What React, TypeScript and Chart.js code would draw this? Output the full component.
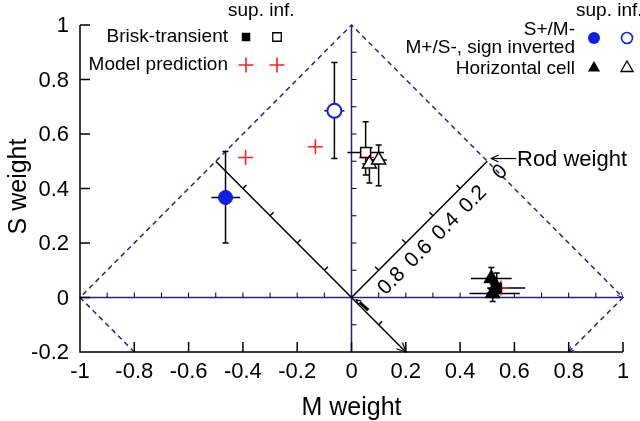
import { useEffect, useRef } from 'react'
import { Chart, registerables } from 'chart.js'
import { drawPoint } from 'chart.js/helpers'

Chart.register(...registerables)

const xTicks = [-1, -0.8, -0.6, -0.4, -0.2, 0, 0.2, 0.4, 0.6, 0.8, 1]
const yTicks = [-0.2, 0, 0.2, 0.4, 0.6, 0.8, 1]
const xMinor = [-0.9, -0.8, -0.7, -0.6, -0.5, -0.4, -0.3, -0.2, -0.1, 0.1, 0.2, 0.3, 0.4, 0.5, 0.6, 0.7, 0.8, 0.9]
const yMinor = [-0.1, 0.1, 0.2, 0.3, 0.4, 0.5, 0.6, 0.7, 0.8, 0.9]
const rodTicks = [0.8, 0.6, 0.4, 0.2, 0]
const diagTicks = [-0.4, -0.3, -0.2, -0.1, 0.1]

// [x, y, xLow, xHigh, yLow, yHigh]
const briskSup = [[0.535, 0.035, 0.5, 0.64, 0.0, 0.09]]
const briskInf = [[0.052, 0.532, -0.015, 0.12, 0.45, 0.645]]
const sPlusSup = [[-0.464, 0.367, -0.516, -0.41, 0.2, 0.536]]
const mPlusInf = [[-0.063, 0.685, -0.1, -0.026, 0.51, 0.862]]
const horizSup = [
  [0.515, 0.07, 0.44, 0.59, 0.03, 0.11],
  [0.52, 0.015, 0.435, 0.62, -0.015, 0.05],
]
const horizInf = [
  [0.066, 0.49, 0.04, 0.1, 0.42, 0.55],
  [0.1, 0.505, 0.07, 0.13, 0.41, 0.56],
]
const modelPred = [
  [-0.39, 0.514],
  [-0.133, 0.553],
  [0.055, 0.514],
  [0.55, 0.035],
]

const diamond = [[-0.8, -0.2], [-1, 0], [0, 1], [1, 0], [0.8, -0.2]]

const NAVY = '#23237d'
const BLUE = '#1020e0'
const RED = '#ff2020'
const FONT = "'Liberation Sans', Arial, sans-serif"

const toPts = (rows: number[][]) => rows.map((r) => ({ x: r[0], y: r[1] }))

const withErr = [briskSup, briskInf, sPlusSup, mPlusInf, horizSup, horizInf]

function arrowHead(ctx: CanvasRenderingContext2D, tx: number, ty: number, fx: number, fy: number, len: number) {
  const a = Math.atan2(ty - fy, tx - fx)
  ctx.beginPath()
  ctx.moveTo(tx - len * Math.cos(a - 0.45), ty - len * Math.sin(a - 0.45))
  ctx.lineTo(tx, ty)
  ctx.lineTo(tx - len * Math.cos(a + 0.45), ty - len * Math.sin(a + 0.45))
  ctx.stroke()
}

const overlay = {
  id: 'overlay',
  beforeDatasetsDraw(chart: any) {
    const ctx: CanvasRenderingContext2D = chart.ctx
    const xs = chart.scales.x
    const ys = chart.scales.y
    const px = (v: number) => xs.getPixelForValue(v)
    const py = (v: number) => ys.getPixelForValue(v)
    ctx.save()
    ctx.lineCap = 'butt'

    // dashed diamond
    ctx.strokeStyle = NAVY
    ctx.lineWidth = 1.5
    ctx.setLineDash([5, 4])
    ctx.beginPath()
    diamond.forEach((p, i) => (i === 0 ? ctx.moveTo(px(p[0]), py(p[1])) : ctx.lineTo(px(p[0]), py(p[1]))))
    ctx.stroke()
    ctx.setLineDash([])
    ctx.lineWidth = 1
    arrowHead(ctx, px(1), py(0), px(0), py(1), 6)
    arrowHead(ctx, px(0.8), py(-0.2), px(1), py(0), 6)

    // centre axes
    ctx.lineWidth = 1.5
    ctx.beginPath()
    ctx.moveTo(px(-1), py(0))
    ctx.lineTo(px(1), py(0))
    ctx.moveTo(px(0), py(-0.2))
    ctx.lineTo(px(0), py(1))
    ctx.stroke()

    ctx.strokeStyle = '#000'
    ctx.lineWidth = 1
    ctx.beginPath()
    xMinor.forEach((v) => {
      ctx.moveTo(px(v), py(0))
      ctx.lineTo(px(v), py(0) - 5)
    })
    yMinor.forEach((v) => {
      ctx.moveTo(px(0), py(v))
      ctx.lineTo(px(0) + 5, py(v))
    })
    ctx.stroke()

    // main axes
    ctx.lineWidth = 1.5
    ctx.beginPath()
    ctx.moveTo(px(-1), py(1))
    ctx.lineTo(px(-1), py(-0.2))
    ctx.lineTo(px(1), py(-0.2))
    xTicks.forEach((v) => {
      ctx.moveTo(px(v), py(-0.2))
      ctx.lineTo(px(v), py(-0.2) - 10)
    })
    yTicks.forEach((v) => {
      ctx.moveTo(px(-1), py(v))
      ctx.lineTo(px(-1) + 10, py(v))
    })
    ctx.stroke()

    ctx.fillStyle = '#000'
    ctx.font = `22px ${FONT}`
    ctx.textAlign = 'center'
    ctx.textBaseline = 'middle'
    xTicks.forEach((v) => ctx.fillText(String(v), px(v), py(-0.2) + 20))
    ctx.textAlign = 'right'
    yTicks.forEach((v) => ctx.fillText(String(v), px(-1) - 11, py(v) + 1))

    ctx.font = `25px ${FONT}`
    ctx.textAlign = 'center'
    ctx.fillText('M weight', px(0), py(-0.2) + 56)
    ctx.save()
    ctx.translate(19, py(0.4) - 2)
    ctx.rotate(-Math.PI / 2)
    ctx.fillText('S weight', 0, 0)
    ctx.restore()

    // diagonal (M-S) line
    ctx.lineWidth = 1.5
    ctx.beginPath()
    ctx.moveTo(px(-0.5), py(0.5))
    ctx.lineTo(px(0.2), py(-0.2))
    const d = 5 / Math.SQRT2
    diagTicks.forEach((v) => {
      ctx.moveTo(px(v), py(-v))
      ctx.lineTo(px(v) + d, py(-v) - d)
    })
    ctx.stroke()
    ctx.lineWidth = 1.2
    arrowHead(ctx, px(0.2), py(-0.2), px(-0.5), py(0.5), 10)
    ctx.lineWidth = 3
    ctx.beginPath()
    ctx.moveTo(px(0.03), py(-0.018))
    ctx.lineTo(px(0.062), py(-0.046))
    ctx.stroke()
    ctx.lineWidth = 1.2
    arrowHead(ctx, px(0.018), py(-0.008), px(0.06), py(-0.046), 5)

    // rod weight axis
    ctx.lineWidth = 1.5
    ctx.beginPath()
    ctx.moveTo(px(0), py(0))
    ctx.lineTo(px(0.5), py(0.5))
    rodTicks.forEach((r) => {
      const v = (1 - r) / 2
      if (r > 0) {
        ctx.moveTo(px(v), py(v))
        ctx.lineTo(px(v) - d, py(v) - d)
      }
    })
    ctx.stroke()
    ctx.font = `21px ${FONT}`
    rodTicks.forEach((r) => {
      const v = (1 - r) / 2
      ctx.save()
      ctx.translate(px(v) + 13, py(v) + 11)
      ctx.rotate(-Math.PI / 4)
      ctx.textAlign = 'center'
      ctx.textBaseline = 'middle'
      ctx.fillText(String(r), 0, 0)
      ctx.restore()
    })

    // rod weight label
    ctx.lineWidth = 1.2
    ctx.beginPath()
    ctx.moveTo(px(0.515) + 25, py(0.51))
    ctx.lineTo(px(0.515), py(0.51))
    ctx.stroke()
    arrowHead(ctx, px(0.515), py(0.51), px(0.515) + 25, py(0.51), 8)
    ctx.font = `22px ${FONT}`
    ctx.textAlign = 'left'
    ctx.textBaseline = 'middle'
    ctx.fillText('Rod weight', 517, py(0.51) + 1)

    // error bars
    ctx.strokeStyle = '#000'
    ctx.lineWidth = 1.5
    ctx.beginPath()
    withErr.forEach((rows) =>
      rows.forEach((r) => {
        ctx.moveTo(px(r[2]), py(r[1]))
        ctx.lineTo(px(r[3]), py(r[1]))
        ctx.moveTo(px(r[0]), py(r[4]))
        ctx.lineTo(px(r[0]), py(r[5]))
        ctx.moveTo(px(r[0]) - 3, py(r[4]))
        ctx.lineTo(px(r[0]) + 3, py(r[4]))
        ctx.moveTo(px(r[0]) - 3, py(r[5]))
        ctx.lineTo(px(r[0]) + 3, py(r[5]))
      })
    )
    ctx.stroke()

    // legends
    ctx.fillStyle = '#000'
    ctx.font = `19px ${FONT}`
    ctx.textAlign = 'left'
    ctx.fillText('sup. inf.', 228, 11)
    ctx.fillText('sup. inf.', 576, 11)
    ctx.textAlign = 'right'
    ctx.fillText('Brisk-transient', 228, 37)
    ctx.fillText('Model prediction', 228, 65)
    ctx.fillText('S+/M-', 575, 30)
    ctx.fillText('M+/S-, sign inverted', 575, 48)
    ctx.fillText('Horizontal cell', 575, 69)

    const mark = (style: string, r: number, fill: string, stroke: string, bw: number, x: number, y: number) => {
      ctx.fillStyle = fill
      ctx.strokeStyle = stroke
      ctx.lineWidth = bw
      drawPoint(ctx, { pointStyle: style as any, radius: r, rotation: 0, borderWidth: bw }, x, y)
    }
    mark('rect', 6, '#000', '#000', 0, 246, 37)
    mark('rect', 6, '#fff', '#000', 1.3, 277, 37)
    mark('cross', 7.5, RED, RED, 1.6, 246, 65)
    mark('cross', 7.5, RED, RED, 1.6, 277, 65)
    mark('circle', 6, BLUE, BLUE, 0, 594, 38)
    mark('circle', 5.5, '#fff', BLUE, 1.6, 627, 38)
    mark('triangle', 7, '#000', '#000', 0, 594, 68)
    mark('triangle', 7, '#fff', '#000', 1.3, 627, 68)
    ctx.restore()
  },
}

export default function App() {
  const chartRef = useRef<HTMLCanvasElement>(null)
  const chartInstance = useRef<Chart | null>(null)

  useEffect(() => {
    document.body.style.margin = '0'
    if (!chartRef.current) return
    const ctx = chartRef.current.getContext('2d')
    if (!ctx) return
    if (chartInstance.current) chartInstance.current.destroy()

    chartInstance.current = new Chart(ctx, {
      type: 'scatter',
      data: {
        datasets: [
          {
            data: toPts(horizInf),
            pointStyle: 'triangle',
            pointRadius: 8,
            pointBackgroundColor: '#fff',
            pointBorderColor: '#000',
            pointBorderWidth: 1.5,
          },
          {
            data: toPts(briskInf),
            pointStyle: 'rect',
            pointRadius: 7,
            pointBackgroundColor: '#fff',
            pointBorderColor: '#000',
            pointBorderWidth: 1.5,
          },
          {
            data: toPts(horizSup),
            pointStyle: 'triangle',
            pointRadius: 8.5,
            pointBackgroundColor: '#000',
            pointBorderColor: '#000',
            pointBorderWidth: 1,
          },
          {
            data: toPts(briskSup),
            pointStyle: 'rect',
            pointRadius: 7,
            pointBackgroundColor: '#000',
            pointBorderColor: '#000',
            pointBorderWidth: 1,
          },
          {
            data: toPts(sPlusSup),
            pointStyle: 'circle',
            pointRadius: 7,
            pointBackgroundColor: BLUE,
            pointBorderColor: BLUE,
            pointBorderWidth: 1,
          },
          {
            data: toPts(mPlusInf),
            pointStyle: 'circle',
            pointRadius: 7,
            pointBackgroundColor: '#fff',
            pointBorderColor: BLUE,
            pointBorderWidth: 2,
          },
          {
            data: toPts(modelPred),
            pointStyle: 'cross',
            pointRadius: 7.5,
            pointBorderColor: RED,
            pointBorderWidth: 1.5,
          },
        ],
      },
      options: {
        animation: false,
        responsive: true,
        maintainAspectRatio: false,
        layout: { padding: { left: 80, right: 17, top: 25, bottom: 69 } },
        scales: {
          x: { type: 'linear', min: -1, max: 1, display: false },
          y: { type: 'linear', min: -0.2, max: 1, display: false },
        },
        plugins: { legend: { display: false }, tooltip: { enabled: false } },
        elements: { point: { hoverRadius: 7 } },
      },
      plugins: [overlay],
    })

    return () => {
      if (chartInstance.current) {
        chartInstance.current.destroy()
        chartInstance.current = null
      }
    }
  }, [])

  return (
    <div style={{ width: 640, height: 421, position: 'relative', background: '#fff' }}>
      <canvas ref={chartRef}></canvas>
    </div>
  )
}
